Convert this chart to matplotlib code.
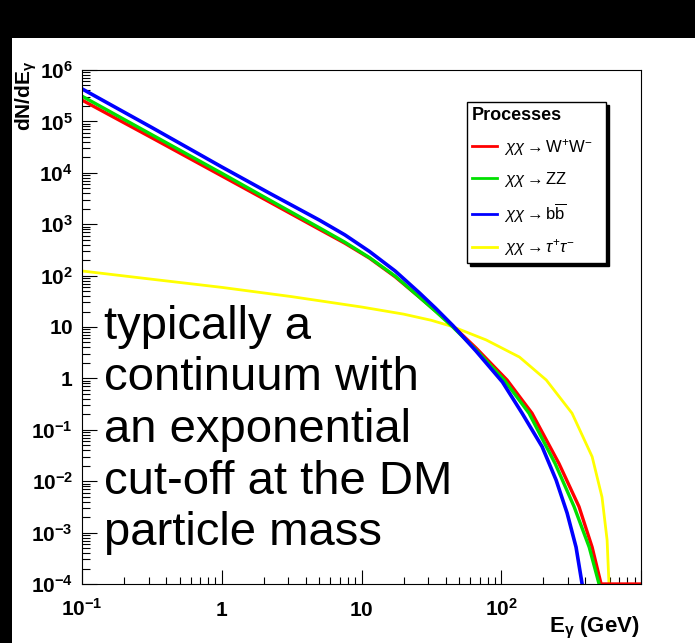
import numpy as np
import matplotlib.pyplot as plt
from matplotlib.ticker import LogLocator, NullFormatter
from matplotlib.patches import Rectangle

plt.rcParams['font.family'] = ['Liberation Sans', 'DejaVu Sans']
plt.rcParams['mathtext.fontset'] = 'custom'
plt.rcParams['mathtext.rm'] = 'Liberation Sans'
plt.rcParams['mathtext.it'] = 'Liberation Sans:italic'
plt.rcParams['mathtext.bf'] = 'Liberation Sans:bold'

# photon spectra: E in GeV, dN/dE per channel
ww_E = [0.1, 0.316, 1.0, 2.2, 5.0, 7.6, 11.4, 17.4, 26, 34, 45, 66, 110, 166, 259, 360, 447, 518, 560, 1000]
ww_N = [2.6e5, 4.8e4, 8.7e3, 2.7e3, 794, 427, 219, 95, 38, 20.4, 10.5, 3.9, 0.93, 0.21, 0.022,
        3.2e-3, 5.2e-4, 1.0e-4, 1.0e-4, 1.0e-4]

zz_E = [0.1, 0.316, 1.0, 2.2, 5.0, 7.6, 11.4, 17.4, 26, 34, 45, 66, 105, 158, 243, 332, 426, 501]
zz_N = [3.1e5, 5.5e4, 9.8e3, 2.95e3, 850, 447, 224, 98, 38, 20, 10, 3.6, 0.93, 0.21, 0.022,
        3.2e-3, 5.2e-4, 1.0e-4]

bb_E = [0.1, 0.316, 1.0, 2.2, 5.0, 7.6, 11.4, 17.4, 26, 34, 45, 66, 102, 141, 196, 247, 296, 343, 379]
bb_N = [4.3e5, 7.6e4, 1.3e4, 4.0e3, 1.2e3, 620, 295, 123, 46, 23, 10.7, 3.4, 0.85, 0.21, 0.047,
        0.0105, 2.4e-3, 5.2e-4, 1.0e-4]

tt_E = [0.1, 0.316, 1.0, 3.16, 10, 20, 31.6, 44.7, 78, 135, 210, 321, 447, 526, 572, 590]
tt_N = [123, 85, 59, 39, 24.5, 17.8, 13.5, 10.2, 5.6, 2.6, 0.93, 0.21, 0.03, 4.9e-3, 7.2e-4, 1.0e-4]

labels = [r'$\chi\chi \rightarrow \mathrm{W}^{+}\mathrm{W}^{-}$',
          r'$\chi\chi \rightarrow \mathrm{ZZ}$',
          r'$\chi\chi \rightarrow \mathrm{b}\overline{\mathrm{b}}$',
          r'$\chi\chi \rightarrow \tau^{+}\tau^{-}$']

x_ticks = [0.1, 1, 10, 100, 1000]
x_labels = [r'$\mathbf{10^{-1}}$', r'$\mathbf{1}$', r'$\mathbf{10}$', r'$\mathbf{10^{2}}$', '']
y_ticks = [1e-4, 1e-3, 1e-2, 1e-1, 1, 10, 1e2, 1e3, 1e4, 1e5, 1e6]
y_labels = [r'$\mathbf{10^{-4}}$', r'$\mathbf{10^{-3}}$', r'$\mathbf{10^{-2}}$', r'$\mathbf{10^{-1}}$',
            r'$\mathbf{1}$', r'$\mathbf{10}$', r'$\mathbf{10^{2}}$', r'$\mathbf{10^{3}}$',
            r'$\mathbf{10^{4}}$', r'$\mathbf{10^{5}}$', r'$\mathbf{10^{6}}$']

note_lines = ['typically a', 'continuum with', 'an exponential', 'cut-off at the DM', 'particle mass']

W, H = 695, 643
fig = plt.figure(figsize=(W / 100, H / 100), dpi=100, facecolor='black')
# white page with black strips on top and left (screen grab)
fig.add_artist(Rectangle((12 / W, 0), 1, 1 - 38 / H, transform=fig.transFigure,
                         facecolor='white', edgecolor='none', zorder=-10))

ax = fig.add_axes([82 / W, 1 - 584 / H, (641 - 82) / W, (584 - 70) / H])
ax.set_xscale('log')
ax.set_yscale('log')

l_tt, = ax.plot(tt_E, tt_N, color='#ffff00', lw=2.0)
l_ww, = ax.plot(ww_E, ww_N, color='#ff0000', lw=2.4)
l_zz, = ax.plot(zz_E, zz_N, color='#00e000', lw=2.4)
l_bb, = ax.plot(bb_E, bb_N, color='#0000ff', lw=2.6)

ax.set_xlim(0.1, 1000)
ax.set_ylim(1e-4, 1e6)

ax.set_xticks(x_ticks, labels=x_labels)
ax.set_yticks(y_ticks, labels=y_labels)
ax.xaxis.set_minor_locator(LogLocator(10, subs=np.arange(2, 10), numticks=20))
ax.yaxis.set_minor_locator(LogLocator(10, subs=np.arange(2, 10), numticks=20))
ax.xaxis.set_minor_formatter(NullFormatter())
ax.yaxis.set_minor_formatter(NullFormatter())

ax.tick_params(which='both', direction='in', top=False, right=False, width=0.8)
ax.tick_params(axis='y', which='major', length=11, pad=6.5, labelsize=15)
ax.tick_params(axis='y', which='minor', length=5.5)
ax.tick_params(axis='x', which='major', length=10, pad=23, labelsize=15)
ax.tick_params(axis='x', which='minor', length=5)
for lab in ax.get_xticklabels():
    lab.set_verticalalignment('baseline')
for sp in ax.spines.values():
    sp.set_linewidth(0.8)

leg = ax.legend([l_ww, l_zz, l_bb, l_tt], labels,
                loc='upper left', bbox_to_anchor=(467 / W, 1 - 102 / H, 139 / W, 0),
                bbox_transform=fig.transFigure, mode='expand', borderaxespad=0,
                fancybox=False, edgecolor='black', framealpha=1,
                shadow={'color': 'black', 'alpha': 1},
                title='Processes', title_fontproperties={'weight': 'bold', 'size': 13},
                alignment='left', fontsize=12, handlelength=1.5, handletextpad=0.4,
                labelspacing=0.75, borderpad=0.3)
leg.get_frame().set_linewidth(1.0)
for h in leg.legend_handles:
    h.set_linewidth(2.0)

fig.text(26 / W, 1 - 60 / H, r'$\mathbf{dN/dE_{\gamma}}$', rotation=90,
         ha='center', va='top', fontsize=15)
fig.text(640 / W, 1 - 632 / H, r'$\mathbf{E_{\gamma}}$ (GeV)', ha='right', va='baseline',
         fontsize=16, fontweight='bold')

for i, line in enumerate(note_lines):
    fig.text(104 / W, 1 - (339 + 51.5 * i) / H, line, fontsize=34,
             ha='left', va='baseline', color='black')

fig.savefig('out.png', dpi=100, facecolor=fig.get_facecolor())
